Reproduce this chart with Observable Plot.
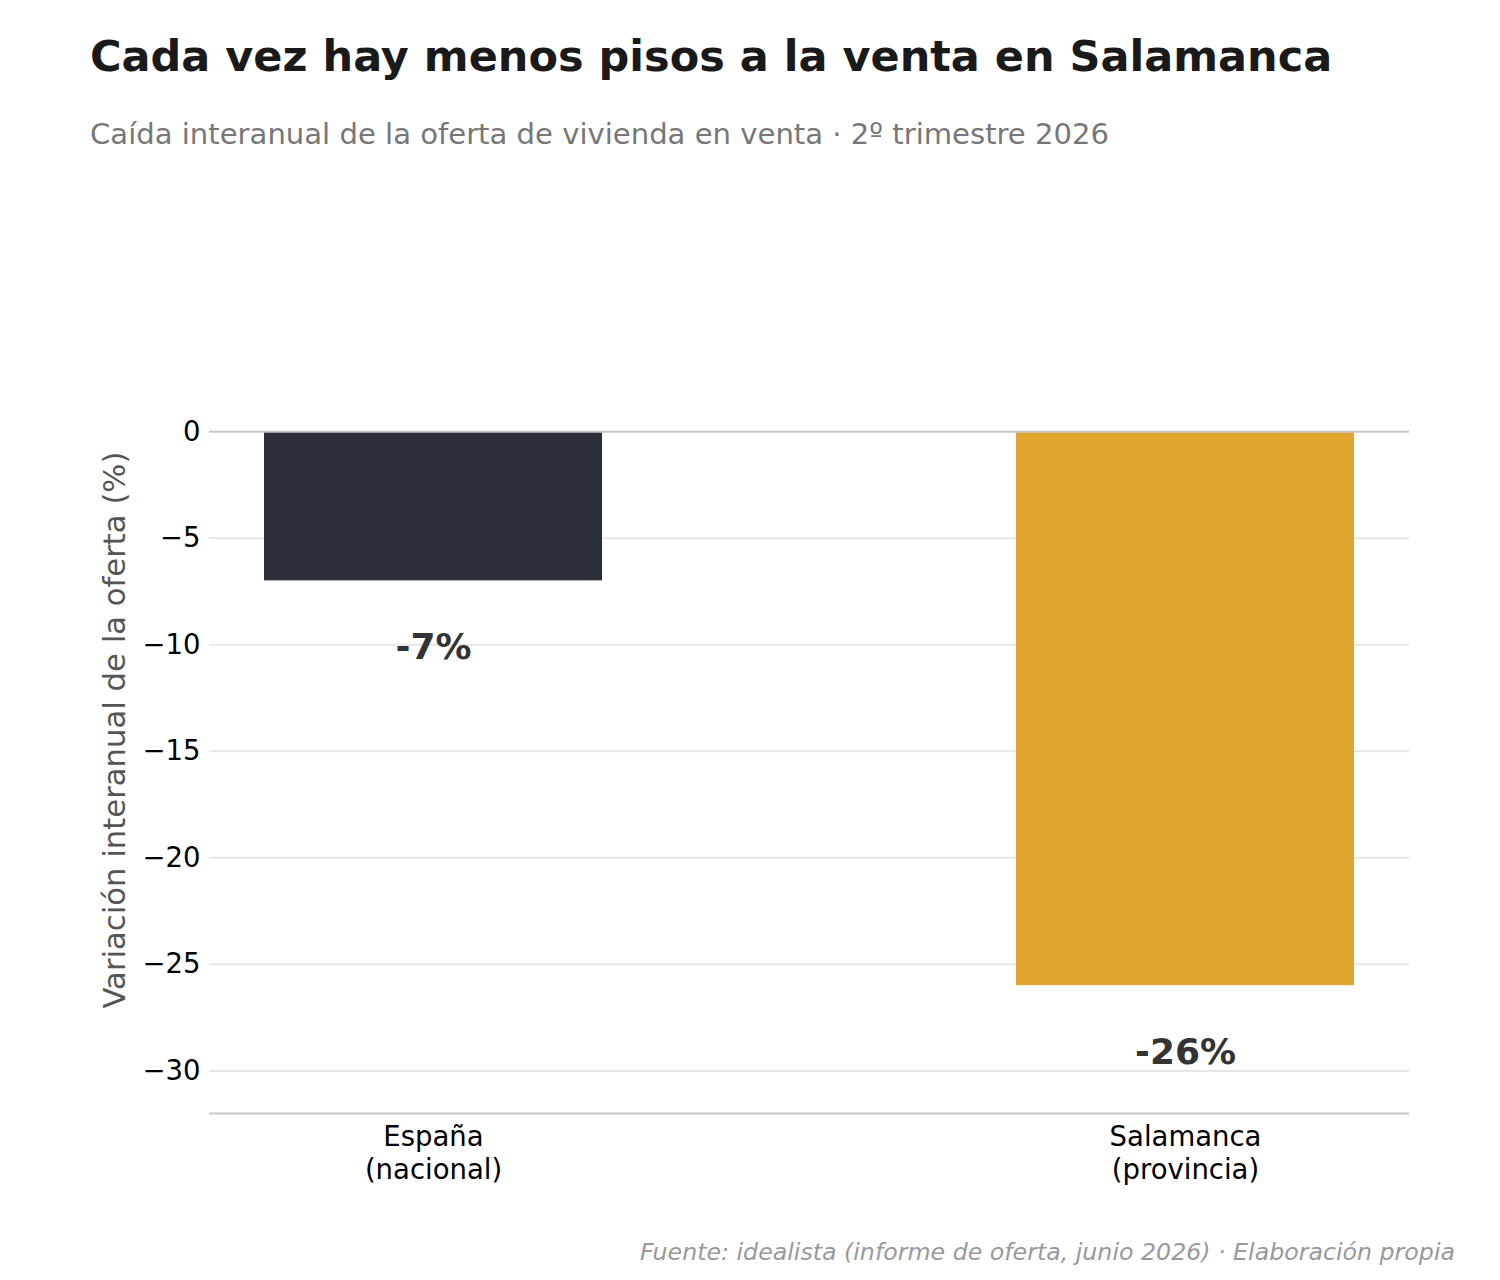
<!DOCTYPE html>
<html>
<head>
<meta charset="utf-8">
<script src="https://cdn.jsdelivr.net/npm/d3@7"></script>
<script src="https://cdn.jsdelivr.net/npm/@observablehq/plot@0.6"></script>
<style>
  html, body { margin: 0; padding: 0; background: #fff; }
  #wrap { position: relative; width: 1500px; height: 1280px; font-family: "DejaVu Sans", sans-serif; }
  #title { position: absolute; left: 90px; top: 35px; margin: 0; font-size: 43px; font-weight: bold; color: #1a1a1a; white-space: nowrap; line-height: 1; }
  #subtitle { position: absolute; left: 90px; top: 120px; margin: 0; font-size: 29.1px; color: #777; white-space: nowrap; line-height: 1; }
  #chart { position: absolute; left: 0; top: 300px; }
  #caption { position: absolute; right: 45px; top: 1241px; font-size: 23.7px; font-style: italic; color: #999; white-space: nowrap; line-height: 1; }
</style>
</head>
<body>
<div id="wrap">
  <h1 id="title">Cada vez hay menos pisos a la venta en Salamanca</h1>
  <div id="subtitle">Caída interanual de la oferta de vivienda en venta · 2º trimestre 2026</div>
  <div id="chart"></div>
  <div id="caption">Fuente: idealista (informe de oferta, junio 2026) · Elaboración propia</div>
</div>
<script>
const categories = ["España\n(nacional)", "Salamanca\n(provincia)"];
const values = [-7, -26];
const valueLabels = ["-7%", "-26%"];
const barColors = ["#2b2f3a", "#e0a52e"];
const yTicks = [-30, -25, -20, -15, -10, -5, 0];
const yLabel = "Variación interanual de la oferta (%)";

const data = categories.map((c, i) => ({cat: c, value: values[i], label: valueLabels[i], color: barColors[i]}));

const chart = Plot.plot({
  width: 1500,
  height: 903,
  marginTop: 46,
  marginBottom: 90,
  marginLeft: 209,
  marginRight: 91,
  style: {fontFamily: "DejaVu Sans, sans-serif", background: "#fff"},
  x: {domain: categories, paddingInner: 0.5505, paddingOuter: 0.0731, align: 0.5},
  y: {domain: [-32, 4]},
  marks: [
    Plot.ruleY(yTicks.filter(d => d !== 0), {stroke: "#e6e6e6", strokeWidth: 2}),
    Plot.barY(data, {x: "cat", y: "value", fill: "color"}),
    Plot.ruleY([0], {stroke: "#c8c8c8", strokeWidth: 2}),
    Plot.ruleY([-32], {stroke: "#c8c8c8", strokeWidth: 2}),
    Plot.text(data, {x: "cat", y: d => d.value - 3, dy: 3, text: "label", fontSize: 36, fontWeight: "bold", fill: "#333"}),
    Plot.axisY({ticks: yTicks, tickSize: 0, tickPadding: 9, fontSize: 27.5, color: "#000", label: null}),
    Plot.text([yLabel], {frameAnchor: "left", textAnchor: "middle", dx: -94, rotate: -90, fontSize: 30.7, fill: "#555"}),
    Plot.axisX({tickSize: 0, tickPadding: 9, fontSize: 27.5, color: "#000", label: null, lineHeight: 1.2, lineAnchor: "top"})
  ]
});
document.getElementById("chart").appendChild(chart);
</script>
</body>
</html>
